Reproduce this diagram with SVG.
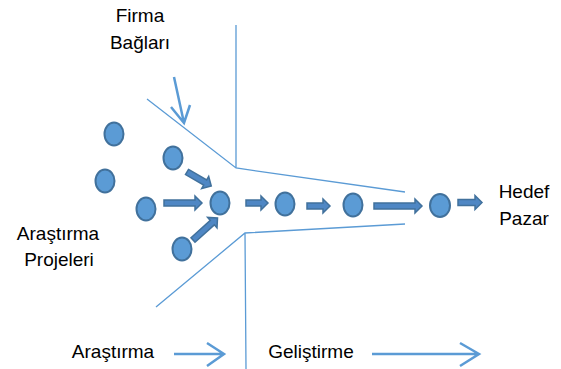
<svg xmlns="http://www.w3.org/2000/svg" width="561" height="369" viewBox="0 0 561 369">
<defs>
<style>
.t{font-family:"Liberation Sans",Arial,sans-serif;font-size:19px;fill:#000}
.ln{fill:none;stroke:#5B9BD5;stroke-width:1.3}
.ar{fill:none;stroke:#5B9BD5;stroke-width:2.5}
.n{fill:#5B9BD5;stroke:#41719C;stroke-width:2}
.ba{fill:#4F87C4;stroke:#41719C;stroke-width:1.5}
</style>
</defs>
<rect width="561" height="369" fill="#fff"/>
<g id="funnel">
<path class="ln" d="M236,25 V168 M147,99 L236,168 L405,192"/>
<path class="ln" d="M156,307 L245,233 L405,224 M245,233 L246,369"/>
</g>
<g id="connectors">
<path class="ar" d="M174,77 L184,123 M171,107 L184,123 L190,105"/>
<path class="ar" d="M174,354 H224 M207,343 L224,354 L207,366"/>
<path class="ar" d="M372,354 H479 M460,343 L479,354 L460,366"/>
<path class="ba" transform="translate(187,172) rotate(30)" d="M0,-3 H21 V-7 L28,0 L21,7 V3 H0 Z"/>
<path class="ba" transform="translate(164,203)" d="M0,-3 H31 V-7 L38,0 L31,7 V3 H0 Z"/>
<path class="ba" transform="translate(193,240) rotate(-42)" d="M0,-3 H26 V-7 L33,0 L26,7 V3 H0 Z"/>
<path class="ba" transform="translate(246,203)" d="M0,-3 H15 V-7 L22,0 L15,7 V3 H0 Z"/>
<path class="ba" transform="translate(307,206)" d="M0,-3 H16 V-7 L23,0 L16,7 V3 H0 Z"/>
<path class="ba" transform="translate(374,206)" d="M0,-3 H41 V-7 L48,0 L41,7 V3 H0 Z"/>
<path class="ba" transform="translate(458,202.5)" d="M0,-3 H17 V-7 L24,0 L17,7 V3 H0 Z"/>
</g>
<g id="n1"><ellipse class="n" cx="114" cy="134" rx="9.5" ry="11.5"/></g>
<g id="n2"><ellipse class="n" cx="105" cy="181" rx="9.5" ry="11.5"/></g>
<g id="n3"><ellipse class="n" cx="173" cy="158" rx="9.5" ry="11.5"/></g>
<g id="n4"><ellipse class="n" cx="146" cy="209" rx="9.5" ry="11.5"/></g>
<g id="n5"><ellipse class="n" cx="182" cy="249" rx="9.5" ry="11.5"/></g>
<g id="n6"><ellipse class="n" cx="220" cy="203" rx="9.5" ry="11.5"/></g>
<g id="n7"><ellipse class="n" cx="285" cy="204" rx="9.5" ry="11.5"/></g>
<g id="n8"><ellipse class="n" cx="353" cy="205" rx="9.5" ry="11.5"/></g>
<g id="n9"><ellipse class="n" cx="440" cy="205.5" rx="10" ry="11.5"/></g>
<g id="labels">
<text class="t" x="140" y="22" text-anchor="middle">Firma</text>
<text class="t" x="140" y="49" text-anchor="middle">Bağları</text>
<text class="t" x="58" y="240" text-anchor="middle">Araştırma</text>
<text class="t" x="59" y="266" text-anchor="middle">Projeleri</text>
<text class="t" x="524" y="198" text-anchor="middle">Hedef</text>
<text class="t" x="524" y="225" text-anchor="middle">Pazar</text>
<text class="t" x="113" y="358" text-anchor="middle">Araştırma</text>
<text class="t" x="311" y="358" text-anchor="middle">Geliştirme</text>
</g>
</svg>
